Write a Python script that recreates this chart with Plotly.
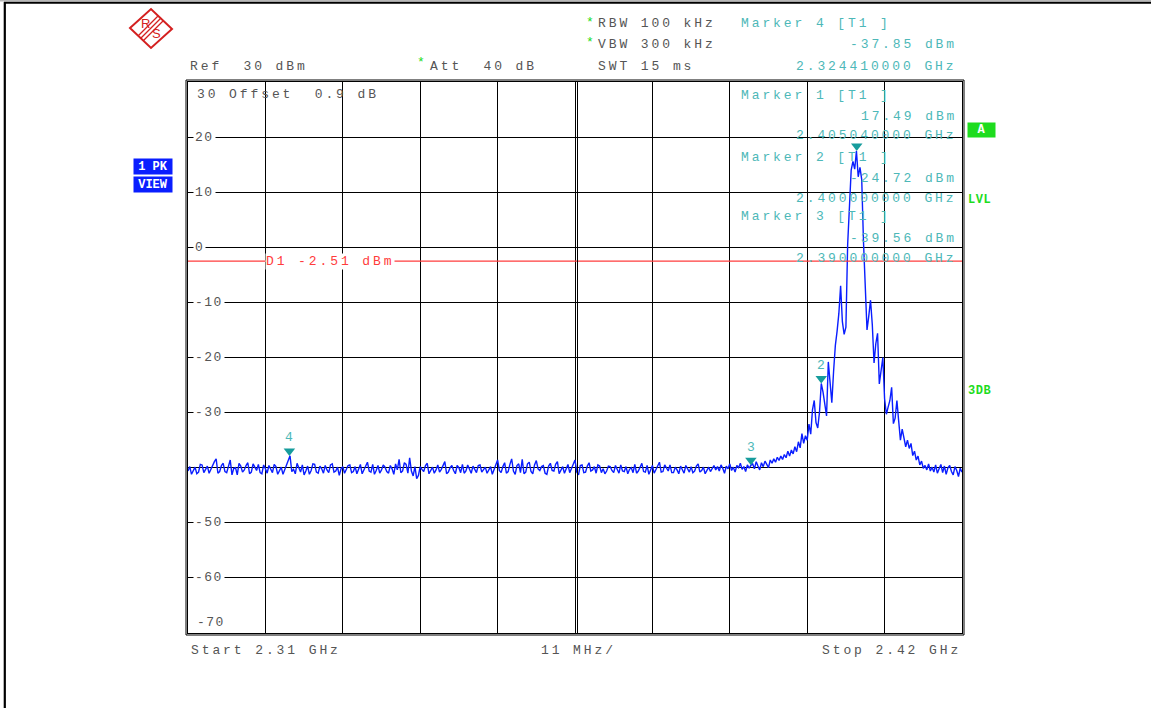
import plotly.graph_objects as go

# ---- sweep data (dBm) ----
# noise floor part: 2.310 GHz onward, 0.5 MHz per point ...
floor_start = 2.310
floor_step = 0.0005
floor_dbm = [
    -40.6, -41.2, -39.9, -40.8, -39.5, -40.3, -41.0, -39.6, -38.4, -40.7,
    -39.2, -40.9, -38.6, -40.1, -41.3, -39.7, -40.4, -39.1, -40.8, -40.0,
    -39.4, -41.1, -40.2, -39.6, -40.9, -39.8, -40.5, -41.2, -39.5, -37.85,
    -40.3, -39.2, -40.8, -41.3, -39.7, -40.5, -39.4, -41.0, -40.2, -39.6,
    -40.9, -39.3, -40.6, -41.4, -39.8, -40.1, -39.5, -40.7, -41.1, -39.4,
    -40.3, -39.0, -40.8, -41.2, -39.6, -40.4, -39.9, -41.0, -40.2, -39.3,
    -38.5, -40.6, -39.4, -38.2, -41.5, -42.0, -39.8, -40.7, -39.2, -40.5,
    -41.0, -39.5, -40.3, -38.9, -40.8, -39.6, -41.1, -40.0, -39.4, -40.6,
    -40.2, -39.7, -40.9, -39.5, -40.4, -41.0, -39.8, -40.3, -38.6, -40.9,
    -39.1, -40.7, -38.4, -41.2, -39.3, -38.5, -40.8, -39.0, -41.1, -38.7,
    -40.5, -39.6, -41.2, -39.2, -40.6, -38.9, -40.3, -41.0, -39.4, -40.1,
    -38.6, -41.3, -39.5, -40.8, -39.1, -40.4, -41.0, -39.7, -40.2, -40.6,
    -39.8, -40.9, -40.3, -39.5, -40.7, -41.1, -40.0, -39.4, -40.6, -39.2,
    -40.8, -41.2, -39.6, -40.3, -39.0, -40.7, -40.1, -39.5, -40.9, -40.4,
    -39.7, -41.0, -40.2, -39.8, -40.6, -39.3, -40.5, -41.1, -39.9, -40.2,
]
# ... and the sweep points lying halfway between them (2.31025 GHz onward)
floor_mid_dbm = [
    -39.8, -40.5, -41.1, -39.4, -40.9, -39.7, -40.2, -38.9, -41.0, -39.6,
    -40.7, -39.5, -41.3, -40.0, -39.2, -40.8, -39.6, -41.1, -39.3, -40.5,
    -40.9, -39.5, -41.0, -40.3, -39.4, -41.2, -39.9, -40.4, -39.0, -40.7,
    -41.1, -40.0, -39.5, -40.6, -41.2, -39.3, -40.8, -39.7, -41.0, -40.4,
    -39.5, -40.8, -39.9, -40.2, -41.0, -39.6, -40.9, -39.8, -40.3, -41.1,
    -39.7, -40.6, -39.4, -40.5, -41.0, -39.5, -40.7, -39.6, -41.2, -40.4,
    -40.9, -39.1, -41.0, -40.6, -39.8, -41.4, -40.3, -39.6, -41.1, -39.9,
    -40.4, -40.8, -39.7, -41.1, -40.0, -40.5, -39.6, -40.9, -41.0, -39.5,
    -41.0, -40.4, -39.6, -40.8, -39.9, -40.3, -41.2, -39.6, -40.5, -39.8,
    -41.0, -39.4, -40.6, -39.6, -40.9, -41.1, -39.3, -40.7, -39.5, -40.2,
    -39.8, -41.0, -39.7, -40.5, -39.4, -41.1, -39.8, -40.2, -40.9, -39.3,
    -40.8, -39.6, -40.9, -39.7, -40.6, -39.8, -39.5, -40.9, -41.1, -39.7,
    -40.5, -39.6, -41.0, -40.6, -39.8, -40.3, -40.9, -41.0, -39.8, -40.7,
    -39.6, -40.4, -41.0, -39.7, -40.8, -39.5, -40.6, -40.9, -39.9, -41.1,
    -40.5, -39.6, -40.8, -40.9, -39.7, -40.8, -39.9, -40.4, -40.7, -39.6,
]
# signal part: 2.385 GHz onward, 0.25 MHz per point
sig_start = 2.385
sig_step = 0.00025
sig_dbm = [
    -40.4, -39.8, -40.6, -39.5, -40.1, -41.0, -39.7, -40.2, -39.3, -40.5,
    -39.9, -40.8, -39.6, -40.0, -39.2, -40.3, -39.8, -40.7, -39.5, -40.1, -39.56,
    -39.3, -40.2, -38.9, -39.7, -40.4, -39.1, -39.8, -38.8, -39.5, -40.0,
    -38.6, -39.2, -38.4, -39.0, -38.1, -38.7, -37.9, -38.5, -37.6, -38.2,
    -37.0, -37.9, -36.8, -37.5, -36.2, -37.1, -35.3, -36.4, -33.8, -35.6,
    -34.2, -35.0, -32.1, -33.9, -29.5, -27.8, -31.8, -32.8, -29.9, -24.72,
    -26.3, -28.5, -30.6, -20.8, -25.0, -28.2, -22.5, -17.8, -15.2, -12.0,
    -7.0, -13.5, -15.8, -14.5, 0.5, 8.0, 14.0, 15.6, 14.2, 17.49,
    12.8, 14.5, 12.3, 1.0, -8.0, -15.0, -12.5, -9.6, -14.0, -21.0,
    -17.5, -15.6, -24.8, -22.0, -20.0, -27.5, -30.3, -29.0, -27.8, -25.4,
    -32.0, -31.0, -27.8, -31.5, -35.0, -33.0, -34.5, -36.2, -35.0, -36.5,
    -35.6, -37.8, -37.0, -38.6, -37.9, -39.5, -38.8, -40.1, -39.6, -40.4,
    -39.3, -40.6, -39.9, -40.8, -39.5, -41.0, -40.2, -39.4, -40.9, -39.7,
    -41.2, -40.0, -39.6, -40.7, -41.3, -39.8, -40.5, -41.6, -40.1, -40.8,
]

marker_names = ["1", "2", "3", "4"]
marker_freq = [2.40504, 2.400, 2.390, 2.32441]
marker_level = [17.49, -24.72, -39.56, -37.85]

d1_level = -2.51
ytick_vals = [20, 10, 0, -10, -20, -30, -50, -60]

freq, level = [], []
for i, (a, b) in enumerate(zip(floor_dbm, floor_mid_dbm)):
    f = floor_start + i * floor_step
    freq += [f, f + floor_step / 2]
    level += [a, b]
freq += [sig_start + i * sig_step for i in range(len(sig_dbm))]
level += sig_dbm

# ---- page geometry ----
W, H = 1151, 708
L, R, T, B = 188, 189, 82, 75
PW, PH = W - L - R, H - T - B

MONO = "Liberation Mono"
GREY = "#555555"
TEAL = "#4db8b8"
GREEN = "#1edc1e"
RED = "#ff3c3c"
BLUE = "#0a1eff"


def px(x):
    return (x - L) / PW


def py(y):
    return (H - B - y) / PH


def sp(s, ls=2.9):
    return f'<span style="letter-spacing:{ls}px">{s}</span>'


fig = go.Figure()
fig.add_trace(go.Scatter(x=freq, y=level, mode="lines",
                         line=dict(color=BLUE, width=1.4), hoverinfo="skip"))

# marker triangles (tip sits on the trace)
fig.add_trace(go.Scatter(x=marker_freq, y=[v + 0.9 for v in marker_level], mode="markers",
                         marker=dict(symbol="triangle-down", size=10, color="#169c9c"),
                         hoverinfo="skip"))


def label(x, y, text, color=GREY, anchor="left", size=13, bold=False, ls=2.9, **kw):
    t = sp(text, ls)
    if bold:
        t = "<b>" + t + "</b>"
    fig.add_annotation(x=px(x), y=py(y + 1), xref="paper", yref="paper", text=t,
                       showarrow=False, xanchor=anchor, yanchor="middle",
                       font=dict(family=MONO, size=size, color=color), **kw)


# marker numbers above triangles
for name, f, v in zip(marker_names[1:], marker_freq[1:], marker_level[1:]):
    fig.add_annotation(x=f, y=v, text=name, showarrow=False, yshift=18,
                       font=dict(family=MONO, size=13, color=TEAL))

# header
label(188, 65, "Ref  30 dBm")
label(415, 62, "*", color=GREEN, ls=0)
label(428, 65, "Att  40 dB")
label(584, 21, "*", color=GREEN, ls=0)
label(596, 23, "RBW 100 kHz")
label(584, 42, "*", color=GREEN, ls=0)
label(596, 44, "VBW 300 kHz")
label(596, 65, "SWT 15 ms")

# marker readouts
label(739, 23, f"Marker {marker_names[3]} [T1 ]", color=TEAL)
label(959, 44, f"{marker_level[3]:.2f} dBm", color=TEAL, anchor="right")
label(959, 65, f"{marker_freq[3]:.9f} GHz", color=TEAL, anchor="right")
for k, row in zip(range(3), [94, 156, 216]):
    label(739, row, f"Marker {marker_names[k]} [T1 ]", color=TEAL)
    label(959, row + 21, f"{marker_level[k]:.2f} dBm", color=TEAL, anchor="right")
    label(959, row + 41, f"{marker_freq[k]:.9f} GHz", color=TEAL, anchor="right")

# y labels inside the grid
label(195, 93, "30 Offset  0.9 dB")
label(195, 621, "-70", ls=1.5)
for v in ytick_vals:
    fig.add_annotation(x=px(193), y=v, xref="paper", yref="y", text=sp(str(v), 1.5),
                       showarrow=False, xanchor="left", yanchor="middle",
                       bgcolor="white", borderpad=1,
                       font=dict(family=MONO, size=13, color=GREY))

# display line
fig.add_shape(type="line", x0=freq[0], x1=2.42, y0=d1_level, y1=d1_level,
              line=dict(color=RED, width=1.2))
fig.add_annotation(x=px(265), y=d1_level, xref="paper", yref="y",
                   text=sp(f"D1 {d1_level:.2f} dBm"), showarrow=False,
                   xanchor="left", yanchor="middle", bgcolor="white", borderpad=0,
                   font=dict(family=MONO, size=13, color=RED))

# bottom
label(189, 649, "Start 2.31 GHz")
label(539, 649, "11 MHz/")
label(963, 649, "Stop 2.42 GHz", anchor="right")

# side badges
fig.add_annotation(x=px(133), y=py(166.5), xref="paper", yref="paper", text="<b>1 PK</b>",
                   showarrow=False, xanchor="left", yanchor="middle", width=38, height=15,
                   bgcolor=BLUE, borderpad=0, font=dict(family=MONO, size=12, color="white"))
fig.add_annotation(x=px(133), y=py(184), xref="paper", yref="paper", text="<b>VIEW</b>",
                   showarrow=False, xanchor="left", yanchor="middle", width=38, height=15,
                   bgcolor=BLUE, borderpad=0, font=dict(family=MONO, size=12, color="white"))
fig.add_annotation(x=px(967), y=py(130), xref="paper", yref="paper", text="<b>A</b>",
                   showarrow=False, xanchor="left", yanchor="middle", width=27, height=14,
                   bgcolor=GREEN, borderpad=0, font=dict(family=MONO, size=12, color="white"))
label(966, 199, "LVL", color=GREEN, bold=True, size=12, ls=0.5)
label(966, 390, "3DB", color=GREEN, bold=True, size=12, ls=0.5)

# frame: outer line, doubled centre division
fig.add_shape(type="rect", xref="paper", yref="paper", x0=px(186), x1=px(964),
              y0=py(635), y1=py(80), line=dict(color="black", width=1))
fig.add_shape(type="line", xref="paper", yref="paper", x0=px(577.5), x1=px(577.5),
              y0=0, y1=1, line=dict(color="black", width=1))

# R&S logo
logo_red = "#d42020"
fig.add_shape(type="path", xref="paper", yref="paper",
              path=f"M {px(130)},{py(28)} L {px(151)},{py(9)} L {px(172)},{py(29)} "
                   f"L {px(151)},{py(48)} Z",
              line=dict(color=logo_red, width=2))
for d in (-2.5, 0, 2.5):
    fig.add_shape(type="line", xref="paper", yref="paper",
                  x0=px(161 + d), y0=py(18 + d), x1=px(141 + d), y1=py(38 + d),
                  line=dict(color=logo_red, width=1.2))
fig.add_annotation(x=px(145.5), y=py(23), xref="paper", yref="paper", text="R",
                   showarrow=False, xanchor="center", yanchor="middle",
                   font=dict(family="Liberation Sans", size=13, color=logo_red))
fig.add_annotation(x=px(156), y=py(33), xref="paper", yref="paper", text="S",
                   showarrow=False, xanchor="center", yanchor="middle",
                   font=dict(family="Liberation Sans", size=13, color=logo_red))

# page border
fig.add_shape(type="rect", xref="paper", yref="paper", x0=px(0), x1=px(W),
              y0=py(1.5), y1=py(0), line=dict(width=0), fillcolor="#b8b8b8")
fig.add_shape(type="line", xref="paper", yref="paper", x0=px(4), x1=px(W),
              y0=py(2.8), y1=py(2.8), line=dict(color="black", width=2))
fig.add_shape(type="line", xref="paper", yref="paper", x0=px(4.8), x1=px(4.8),
              y0=py(2), y1=py(H), line=dict(color="black", width=2.2))

axis = dict(showgrid=True, gridcolor="black", gridwidth=1, showticklabels=False,
            ticks="", showline=True, linecolor="black", linewidth=1, mirror=True,
            zeroline=False, fixedrange=True)
fig.update_xaxes(range=[2.31, 2.42], tick0=2.31, dtick=0.011, **axis)
fig.update_yaxes(range=[-70, 30], tick0=-70, dtick=10, **axis)

fig.update_layout(width=W, height=H, margin=dict(l=L, r=R, t=T, b=B),
                  paper_bgcolor="white", plot_bgcolor="white", showlegend=False)

fig.write_html("out.html", config={"displayModeBar": False},
               post_script="document.body.style.margin='0px';")
